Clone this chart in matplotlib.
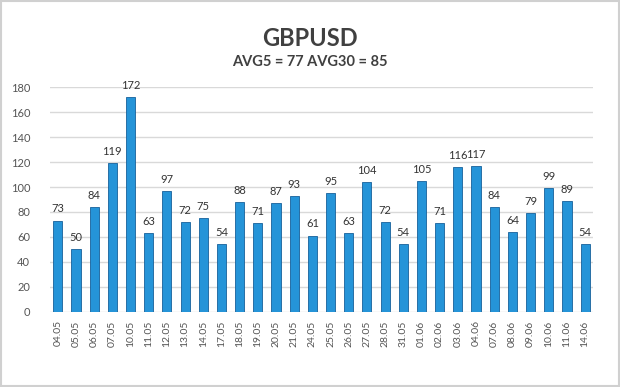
import matplotlib.pyplot as plt

plt.rcParams['font.family'] = ['Lato', 'DejaVu Sans']

fechas = ["04.05", "05.05", "06.05", "07.05", "10.05", "11.05", "12.05", "13.05",
          "14.05", "17.05", "18.05", "19.05", "20.05", "21.05", "24.05", "25.05",
          "26.05", "27.05", "28.05", "31.05", "01.06", "02.06", "03.06", "04.06",
          "07.06", "08.06", "09.06", "10.06", "11.06", "14.06"]
valores = [73, 50, 84, 119, 172, 63, 97, 72, 75, 54, 88, 71, 87, 93, 61, 95,
           63, 104, 72, 54, 105, 71, 116, 117, 84, 64, 79, 99, 89, 54]
yticks = [0, 20, 40, 60, 80, 100, 120, 140, 160, 180]

fig = plt.figure(figsize=(6.2, 3.87), dpi=100)
ax = fig.add_axes([0.08, 0.194, 0.877, 0.581])

x = list(range(len(valores)))
ax.bar(x, valores, width=0.5, color='#2594d8', edgecolor='#16609a', linewidth=0.6, zorder=3)
for xi, v in zip(x, valores):
    ax.text(xi, v + 5, str(v), ha='center', va='bottom', fontsize=8, color='#333333')

ax.set_xlim(-0.45, len(valores) - 0.55)
ax.set_ylim(0, 180)
ax.set_yticks(yticks)
ax.set_xticks(x)
ax.set_xticklabels(fechas, rotation=90, fontsize=7.5, color='#555555')
ax.tick_params(axis='y', labelsize=8, colors='#555555', length=0, pad=14)
ax.tick_params(axis='x', length=0, pad=6)
ax.grid(axis='y', color='#d9d9d9', linewidth=1, zorder=0)
for s in ax.spines.values():
    s.set_visible(False)

fig.text(0.5, 0.9, "GBPUSD", ha='center', va='center', fontsize=17, fontweight='bold', color='#404040')
fig.text(0.5, 0.84, "AVG5 = 77 AVG30 = 85", ha='center', va='center', fontsize=10.5, fontweight='bold', color='#404040')

# marco gris
fig.patches.append(plt.Rectangle((0.002, 0.003), 0.996, 0.994, transform=fig.transFigure,
                                 fill=False, edgecolor='#d0d0d0', linewidth=1.5))

fig.savefig('out.png', dpi=100)
